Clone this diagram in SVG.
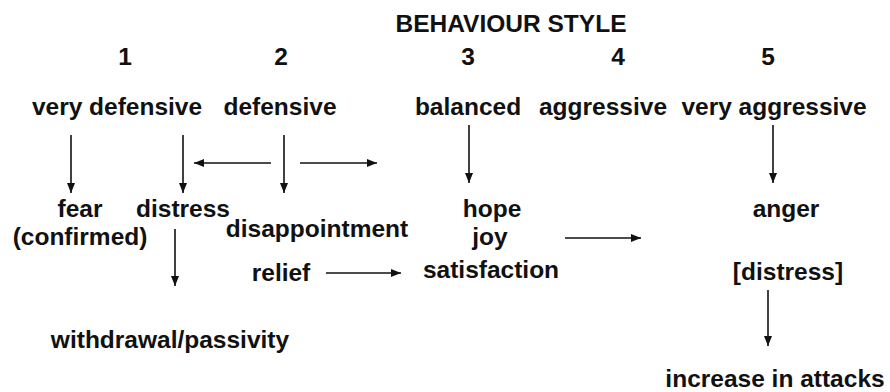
<svg xmlns="http://www.w3.org/2000/svg" width="890" height="392" viewBox="0 0 890 392">
<defs>
<marker id="ah" markerUnits="userSpaceOnUse" markerWidth="10" markerHeight="10" viewBox="0 0 10 10" refX="10" refY="5" orient="auto">
<path d="M0,1 L10,5 L0,9 Z" fill="#111"/>
</marker>
<style>
text{font-family:"Liberation Sans",Arial,Helvetica,sans-serif;font-weight:bold;font-size:24.5px;fill:#111;text-anchor:middle}
line{stroke:#111;stroke-width:1.6;marker-end:url(#ah)}
</style>
</defs>
<rect width="890" height="392" fill="#fff"/>
<g id="title"><text x="511" y="32">BEHAVIOUR STYLE</text></g>
<g id="scale">
<text x="125" y="65">1</text>
<text x="281" y="65">2</text>
<text x="468" y="65">3</text>
<text x="618" y="65">4</text>
<text x="768" y="65">5</text>
</g>
<g id="n-very-defensive"><text x="117" y="115">very defensive</text></g>
<g id="n-defensive"><text x="280" y="115">defensive</text></g>
<g id="n-balanced"><text x="468" y="115">balanced</text></g>
<g id="n-aggressive"><text x="603" y="115">aggressive</text></g>
<g id="n-very-aggressive"><text x="774" y="115">very aggressive</text></g>
<g id="n-fear"><text x="80" y="217">fear</text><text x="80" y="245">(confirmed)</text></g>
<g id="n-distress"><text x="183" y="217">distress</text></g>
<g id="n-disappointment"><text x="317" y="237">disappointment</text></g>
<g id="n-relief"><text x="281" y="281">relief</text></g>
<g id="n-withdrawal"><text x="170" y="348">withdrawal/passivity</text></g>
<g id="n-hope"><text x="492" y="217">hope</text><text x="490" y="245">joy</text><text x="491" y="278">satisfaction</text></g>
<g id="n-anger"><text x="786" y="217">anger</text><text x="788" y="280">[distress]</text></g>
<g id="n-increase"><text x="775" y="387">increase in attacks</text></g>
<g id="connectors">
<line x1="71" y1="135" x2="71" y2="193"/>
<line x1="183" y1="135" x2="183" y2="193"/>
<line x1="284" y1="135" x2="284" y2="193"/>
<line x1="271" y1="163" x2="194" y2="163"/>
<line x1="300" y1="163" x2="377" y2="163"/>
<line x1="469" y1="125" x2="469" y2="183"/>
<line x1="773" y1="125" x2="773" y2="183"/>
<line x1="175" y1="229" x2="175" y2="286"/>
<line x1="326" y1="273" x2="401" y2="273"/>
<line x1="565" y1="238" x2="641" y2="238"/>
<line x1="768" y1="290" x2="768" y2="346"/>
</g>
</svg>
